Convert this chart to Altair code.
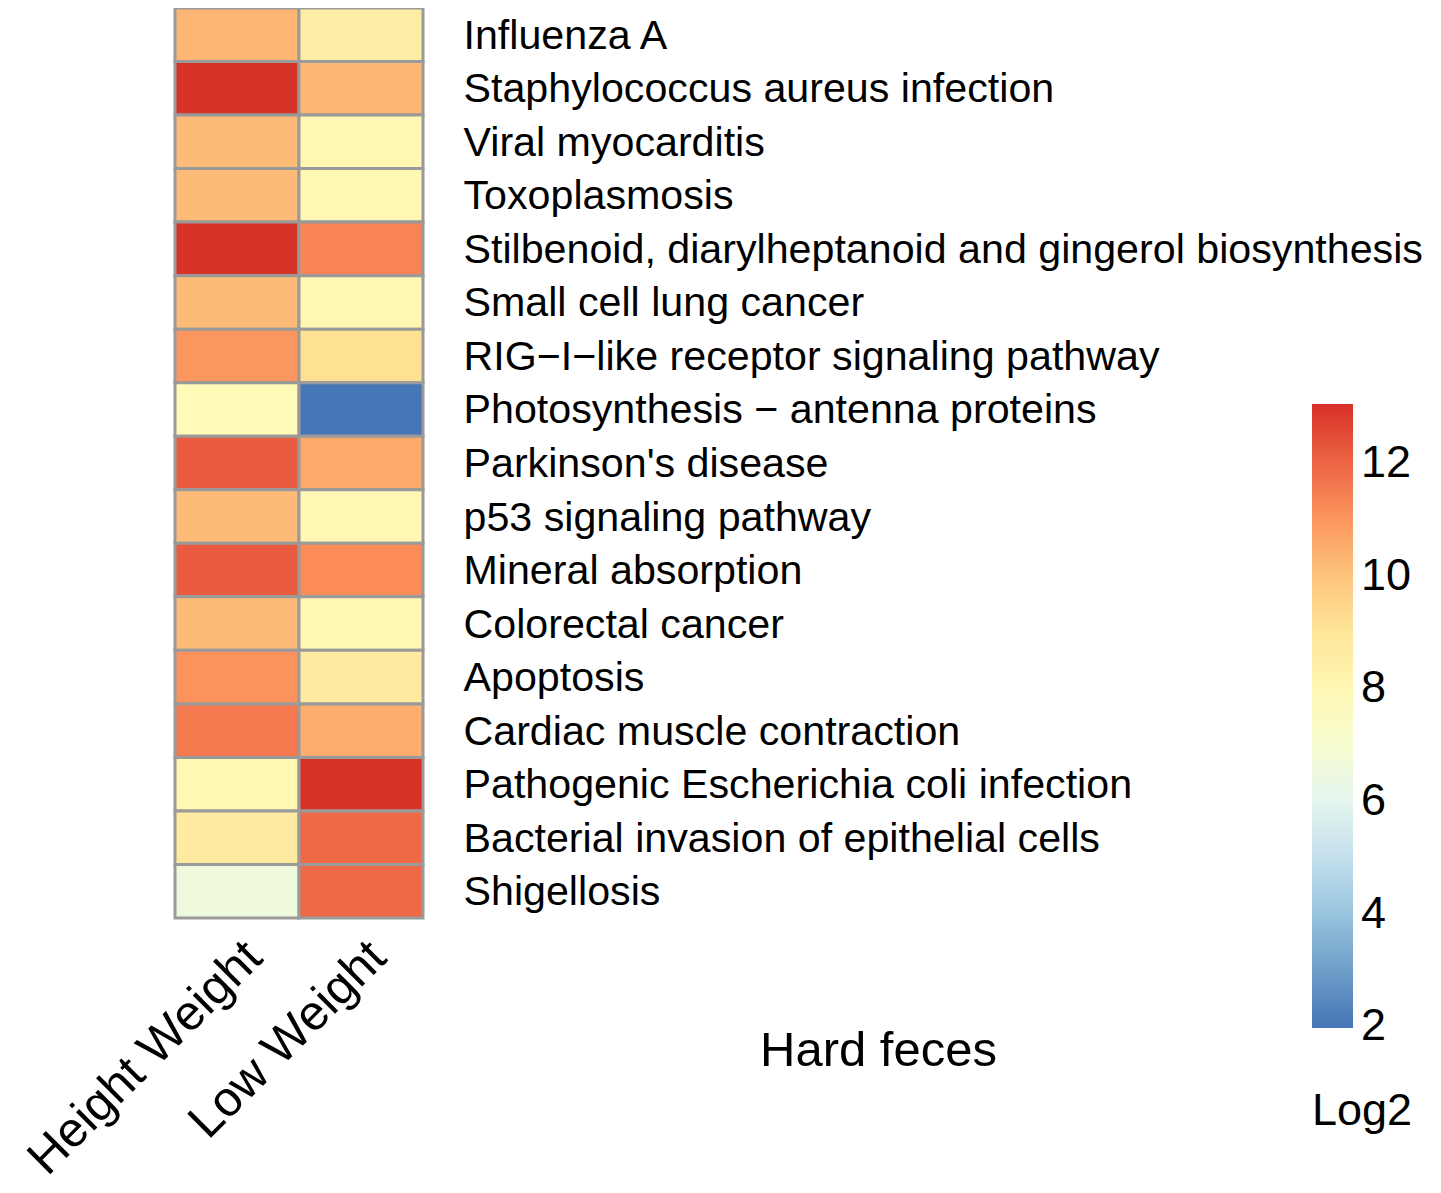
import altair as alt
import pandas as pd

pathways = [
    "Influenza A",
    "Staphylococcus aureus infection",
    "Viral myocarditis",
    "Toxoplasmosis",
    "Stilbenoid, diarylheptanoid and gingerol biosynthesis",
    "Small cell lung cancer",
    "RIG\u2212I\u2212like receptor signaling pathway",
    "Photosynthesis \u2212 antenna proteins",
    "Parkinson's disease",
    "p53 signaling pathway",
    "Mineral absorption",
    "Colorectal cancer",
    "Apoptosis",
    "Cardiac muscle contraction",
    "Pathogenic Escherichia coli infection",
    "Bacterial invasion of epithelial cells",
    "Shigellosis",
]
groups = ["Height Weight", "Low Weight"]
height_weight = [10.3, 13.0, 10.2, 10.2, 13.0, 10.2, 11.0, 7.8, 12.2, 10.2, 12.2, 10.2, 11.1, 11.6, 8.0, 8.7, 6.6]
low_weight = [8.6, 10.3, 8.0, 8.0, 11.4, 8.0, 9.3, 2.0, 10.6, 8.0, 11.2, 8.0, 8.7, 10.5, 13.0, 11.9, 11.9]

legend_ticks = [2, 4, 6, 8, 10, 12]
color_stops = [1.97, 3.84, 5.68, 7.53, 9.37, 11.21, 13.05]
color_range = ["#4575B4", "#91BFDB", "#E0F3F8", "#FFFFBF", "#FEE090", "#FC8D59", "#D73027"]

rows = []
for p, a, b in zip(pathways, height_weight, low_weight):
    rows.append({"pathway": p, "group": groups[0], "value": a})
    rows.append({"pathway": p, "group": groups[1], "value": b})
df = pd.DataFrame(rows)

FONT = "Liberation Sans"

chart = alt.Chart(df).mark_rect(stroke="#9a9a9a", strokeWidth=3).encode(
    x=alt.X("group:N", sort=groups, scale=alt.Scale(paddingInner=0, paddingOuter=0),
            axis=alt.Axis(title="Hard feces", labelAngle=-45, labelFontSize=49, labelFont=FONT,
                          labelColor="black", ticks=False, domain=False, labelPadding=14,
                          labelLimit=2000,
                          titleFont=FONT, titleFontSize=49, titleFontWeight="normal",
                          titleColor="black", titleX=703, titleY=108, titleAlign="center")),
    y=alt.Y("pathway:N", sort=pathways, scale=alt.Scale(paddingInner=0, paddingOuter=0),
            axis=alt.Axis(title=None, orient="right", labelFontSize=41.2, labelFont=FONT,
                          labelColor="black", ticks=False, domain=False, labelPadding=40,
                          labelOffset=2, labelLimit=2000)),
    color=alt.Color("value:Q",
                    scale=alt.Scale(domain=color_stops, range=color_range, interpolate="rgb"),
                    legend=alt.Legend(title="Log2", orient="none", legendX=1137, legendY=396,
                                      direction="vertical", gradientLength=624,
                                      gradientThickness=41, gradientStrokeWidth=0,
                                      titleOrient="bottom", titleFont=FONT, titleFontSize=45,
                                      titleFontWeight="normal", titleColor="black",
                                      titlePadding=40, titleAnchor="middle",
                                      labelFont=FONT, labelFontSize=45, labelColor="black",
                                      labelBaseline="middle",
                                      labelOffset=8, values=legend_ticks)),
).properties(
    width=248, height=910,
    padding={"left": 167, "top": 0, "right": 1010, "bottom": 265},
    autosize=alt.AutoSizeParams(type="none"),
).configure_view(stroke=None)

chart.save("out.html", embed_options={"renderer": "svg", "actions": False})
